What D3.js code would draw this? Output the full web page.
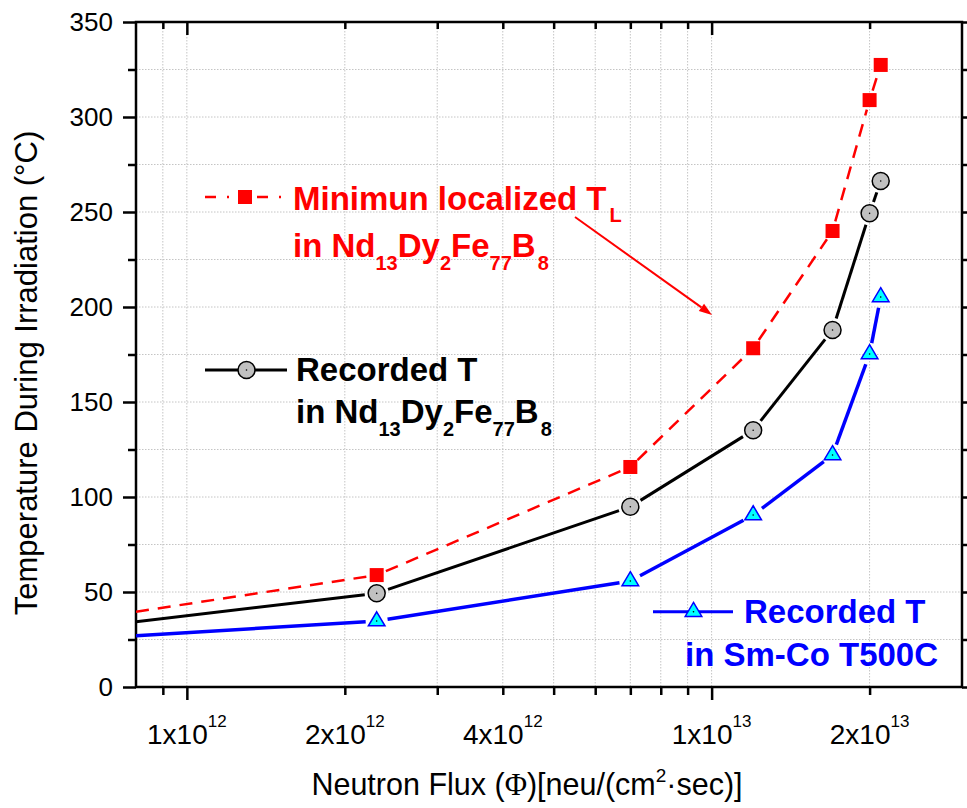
<!DOCTYPE html>
<html><head><meta charset="utf-8">
<script src="https://cdn.jsdelivr.net/npm/d3@7"></script>
<style>body{margin:0;background:#fff} svg{display:block} text{font-family:Arial,'Liberation Sans',sans-serif}</style>
</head><body>
<svg id="c" width="967" height="808"></svg>
<script>
// ---- data ----
const flux = [8e11, 2.3e12, 7e12, 1.2e13, 1.7e13, 2.0e13, 2.1e13];
const minLocalizedT = [39.6, 58.9, 115.8, 178.3, 240, 308.9, 327.4];
const recordedNdDyFeB = [34.4, 49.3, 94.9, 135.1, 187.9, 249.3, 266.3];
const recordedSmCo = [27, 34.7, 55.8, 90.5, 122.1, 175.3, 205.3];
const xTickValues = [1e12, 2e12, 4e12, 1e13, 2e13];
const xTickMantissa = ["1x10", "2x10", "4x10", "1x10", "2x10"];
const xTickExponent = ["12", "12", "12", "13", "13"];
const xMajorTicks = [1e12, 1e13];
const yMajorTicks = [0, 50, 100, 150, 200, 250, 300, 350];
const yMinorTicks = [25, 75, 125, 175, 225, 275, 325];

// ---- layout ----
const L = 136, R = 962, T = 22, B = 687;
const svg = d3.select("#c");
const x = d3.scaleLog().domain([8e11, 3e13]).range([L, R]);
const y = d3.scaleLinear().domain([0, 350]).range([B, T]);

const allXTicks = x.ticks().filter(v => v > 8e11 * 1.001 && v < 3e13 * 0.999);
const xMinor = allXTicks.filter(v => !xMajorTicks.some(m => Math.abs(m - v) / m < 1e-6));

// grid
const grid = svg.append("g").attr("stroke", "#c4c4c4").attr("stroke-width", 1).attr("stroke-dasharray", "1.5,1.5");
grid.selectAll("line.v").data(allXTicks).join("line").attr("class", "v")
  .attr("x1", d => x(d)).attr("x2", d => x(d)).attr("y1", T).attr("y2", B);
grid.selectAll("line.h").data(yMajorTicks.concat(yMinorTicks).filter(v => v > 0 && v < 350)).join("line").attr("class", "h")
  .attr("y1", d => y(d)).attr("y2", d => y(d)).attr("x1", L).attr("x2", R);

// axes ticks
function styleAxis(g) { g.select(".domain").remove(); g.selectAll(".tick line").attr("stroke", "#000").attr("stroke-width", 2.5); }
svg.append("g").attr("transform", `translate(0,${B})`).call(d3.axisBottom(x).tickValues(xMinor).tickSize(8).tickFormat("")).call(styleAxis);
svg.append("g").attr("transform", `translate(0,${B})`).call(d3.axisBottom(x).tickValues(xMajorTicks).tickSize(13).tickFormat("")).call(styleAxis);
svg.append("g").attr("transform", `translate(0,${T})`).call(d3.axisTop(x).tickValues(xMinor).tickSize(-7).tickFormat("")).call(styleAxis);
svg.append("g").attr("transform", `translate(0,${T})`).call(d3.axisTop(x).tickValues(xMajorTicks).tickSize(-13).tickFormat("")).call(styleAxis);

const yl = svg.append("g").attr("transform", `translate(${L},0)`).call(d3.axisLeft(y).tickValues(yMajorTicks).tickSize(13).tickPadding(10)).call(styleAxis);
yl.selectAll(".tick text").attr("font-size", 26).attr("font-family", "Arial,'Liberation Sans',sans-serif").attr("fill", "#000");
svg.append("g").attr("transform", `translate(${L},0)`).call(d3.axisLeft(y).tickValues(yMinorTicks).tickSize(8).tickFormat("")).call(styleAxis);
svg.append("g").attr("transform", `translate(${R},0)`).call(d3.axisRight(y).tickValues(yMajorTicks).tickSize(13).tickFormat("")).call(styleAxis);
svg.append("g").attr("transform", `translate(${R},0)`).call(d3.axisRight(y).tickValues(yMinorTicks).tickSize(8).tickFormat("")).call(styleAxis);

// x tick labels
const xl = svg.append("g");
xTickValues.forEach((v, i) => {
  const t = xl.append("text").attr("x", x(v)).attr("y", 744).attr("text-anchor", "middle").attr("font-size", 28).attr("fill", "#000");
  t.append("tspan").text(xTickMantissa[i]);
  t.append("tspan").attr("font-size", 17).attr("dy", -17).text(xTickExponent[i]);
});

// frame
svg.append("rect").attr("x", L).attr("y", T).attr("width", R - L).attr("height", B - T)
  .attr("fill", "none").attr("stroke", "#000").attr("stroke-width", 2.5);

// axis titles
svg.append("text").attr("transform", "translate(37,373) rotate(-90)").attr("text-anchor", "middle")
  .attr("font-size", 31).attr("fill", "#000").text("Temperature During Irradiation (°C)");
const xt = svg.append("text").attr("x", 527).attr("y", 795).attr("text-anchor", "middle").attr("font-size", 30.5).attr("fill", "#000");
xt.append("tspan").text("Neutron Flux (");
xt.append("tspan").attr("font-family", "'Liberation Serif','Times New Roman',serif").text("Φ");
xt.append("tspan").text(")[neu/(cm");
xt.append("tspan").attr("font-size", 19).attr("dy", -13).text("2");
xt.append("tspan").attr("dy", 13).text("·sec)]");

// clip
svg.append("clipPath").attr("id", "clip").append("rect").attr("x", L).attr("y", T).attr("width", R - L).attr("height", B - T);

// series drawing with gaps at markers (Origin style)
function drawSeries(vals, color, width, dash, gap) {
  const pts = flux.map((f, i) => [x(f), y(vals[i])]);
  const g = svg.append("g").attr("clip-path", "url(#clip)");
  for (let i = 0; i < pts.length - 1; i++) {
    const [x0, y0] = pts[i], [x1, y1] = pts[i + 1];
    const len = Math.hypot(x1 - x0, y1 - y0), ux = (x1 - x0) / len, uy = (y1 - y0) / len;
    const s = i === 0 ? 0 : gap, e = gap;
    if (len <= s + e) continue;
    g.append("line").attr("x1", x0 + ux * s).attr("y1", y0 + uy * s).attr("x2", x1 - ux * e).attr("y2", y1 - uy * e)
      .attr("stroke", color).attr("stroke-width", width).attr("stroke-dasharray", dash || null);
  }
  return pts.slice(1);
}
function square(g, cx, cy) {
  g.append("rect").attr("x", cx - 7).attr("y", cy - 7).attr("width", 14).attr("height", 14).attr("fill", "#ff0000");
}
function circ(g, cx, cy) {
  g.append("circle").attr("cx", cx).attr("cy", cy).attr("r", 8.5).attr("fill", "#c0c0c0").attr("stroke", "#000").attr("stroke-width", 1.5);
  g.append("circle").attr("cx", cx).attr("cy", cy).attr("r", 0.8).attr("fill", "#000");
}
function tri(g, cx, cy) {
  g.append("path").attr("d", `M${cx},${cy - 9.3}L${cx + 8.3},${cy + 4.7}L${cx - 8.3},${cy + 4.7}Z`)
    .attr("fill", "#00ffff").attr("stroke", "#0000ff").attr("stroke-width", 1.5);
  g.append("circle").attr("cx", cx).attr("cy", cy).attr("r", 0.8).attr("fill", "#000");
}

const ptsBlue = drawSeries(recordedSmCo, "#0000ff", 3.5, null, 11);
const ptsBlack = drawSeries(recordedNdDyFeB, "#000", 3, null, 12);
const ptsRed = drawSeries(minLocalizedT, "#ff0000", 2.5, "13,9", 10);
const mg = svg.append("g");
ptsBlue.forEach(p => tri(mg, p[0], p[1]));
ptsBlack.forEach(p => circ(mg, p[0], p[1]));
ptsRed.forEach(p => square(mg, p[0], p[1]));

// legends
const lg = svg.append("g");
// red
lg.append("line").attr("x1", 205).attr("x2", 285).attr("y1", 197).attr("y2", 197).attr("stroke", "#ff0000").attr("stroke-width", 2.5).attr("stroke-dasharray", "11,11,2,28");
square(lg, 245, 197);
const rt1 = lg.append("text").attr("x", 293).attr("y", 210).attr("font-size", 33).attr("font-weight", "bold").attr("fill", "#ff0000");
rt1.append("tspan").text("Minimun localized T");
rt1.append("tspan").attr("font-size", 20).attr("dx", 3).attr("dy", 12).text("L");
function formula(x0, yb, color) {
  const t = lg.append("text").attr("x", x0).attr("y", yb).attr("font-size", 33).attr("font-weight", "bold").attr("fill", color);
  t.append("tspan").text("in Nd");
  t.append("tspan").attr("font-size", 20).attr("dy", 13).text("13");
  t.append("tspan").attr("dy", -13).text("Dy");
  t.append("tspan").attr("font-size", 20).attr("dy", 13).text("2");
  t.append("tspan").attr("dy", -13).text("Fe");
  t.append("tspan").attr("font-size", 20).attr("dy", 13).text("77");
  t.append("tspan").attr("dy", -13).text("B");
  t.append("tspan").attr("font-size", 20).attr("dy", 13).attr("dx", 2).text("8");
}
formula(293, 256.7, "#ff0000");
// arrow
(function () {
  const x0 = 575, y0 = 217, x1 = 712, y1 = 315;
  const a = Math.atan2(y1 - y0, x1 - x0), hl = 13, hw = 4.5;
  const bx = x1 - hl * Math.cos(a), by = y1 - hl * Math.sin(a);
  lg.append("line").attr("x1", x0).attr("y1", y0).attr("x2", bx).attr("y2", by).attr("stroke", "#ff0000").attr("stroke-width", 2);
  lg.append("path").attr("d", `M${x1},${y1}L${bx + hw * Math.sin(a)},${by - hw * Math.cos(a)}L${bx - hw * Math.sin(a)},${by + hw * Math.cos(a)}Z`).attr("fill", "#ff0000");
})();
// black
lg.append("line").attr("x1", 205).attr("x2", 287).attr("y1", 370).attr("y2", 370).attr("stroke", "#000").attr("stroke-width", 3);
circ(lg, 246.5, 370);
lg.append("text").attr("x", 296).attr("y", 380.7).attr("font-size", 33).attr("font-weight", "bold").attr("fill", "#000").text("Recorded T");
formula(296, 423.3, "#000");
// blue
lg.append("line").attr("x1", 653).attr("x2", 733).attr("y1", 611.7).attr("y2", 611.7).attr("stroke", "#0000ff").attr("stroke-width", 3);
tri(lg, 693.5, 611.7);
lg.append("text").attr("x", 744).attr("y", 623.3).attr("font-size", 33).attr("font-weight", "bold").attr("fill", "#0000ff").text("Recorded T");
lg.append("text").attr("x", 685).attr("y", 666).attr("font-size", 33).attr("font-weight", "bold").attr("fill", "#0000ff").text("in Sm-Co T500C");
</script>
</body></html>
